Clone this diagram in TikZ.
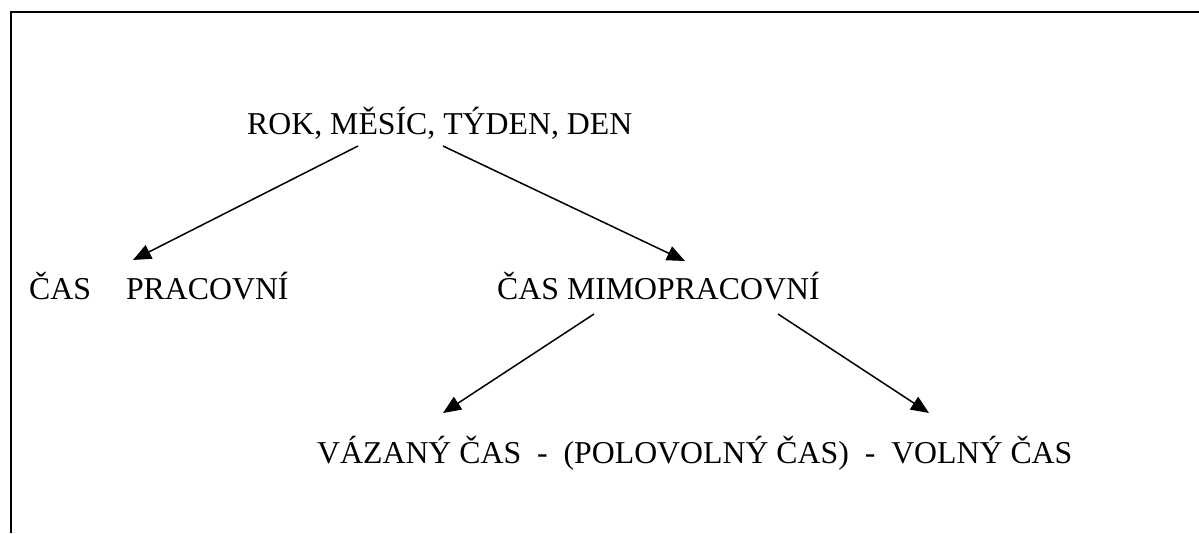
\documentclass[tikz,border=0pt]{standalone}
\usepackage{fontspec}
\setmainfont{Liberation Serif}
\usetikzlibrary{arrows.meta}

\begin{document}
\begin{tikzpicture}[x=1pt,y=-1pt,
		every node/.style={inner sep=0pt,anchor=base west,font=\fontsize{31.8pt}{38pt}\selectfont},
		arr/.style={line width=1.5pt,-{Triangle[length=18pt,width=15pt]}}]
		\useasboundingbox (0,0) rectangle (1199,533);
		\draw[line width=2pt] (11,533) -- (11,12) -- (1199,12);
		\node (obdobi) at (247,134) {ROK, MĚSÍC, TÝDEN, DEN};
		\node (pracovni) at (29,299) {ČAS\hspace{1.1em}PRACOVNÍ};
		\node (mimo) at (497,299) {ČAS MIMOPRACOVNÍ};
		\node (volno) at (317,463) {VÁZANÝ ČAS\ \ -\ \ (POLOVOLNÝ ČAS)\ \ -\ \ VOLNÝ ČAS};
		\draw[arr] ([shift={(111,12)}]obdobi.base west) -- ([shift={(104,-39)}]pracovni.base west);
		\draw[arr] ([shift={(196,12)}]obdobi.base west) -- ([shift={(188,-38)}]mimo.base west);
		\draw[arr] ([shift={(97,15)}]mimo.base west) -- ([shift={(126,-50)}]volno.base west);
		\draw[arr] ([shift={(281,15)}]mimo.base west) -- ([shift={(612,-50)}]volno.base west);
	\end{tikzpicture}
\end{document}
